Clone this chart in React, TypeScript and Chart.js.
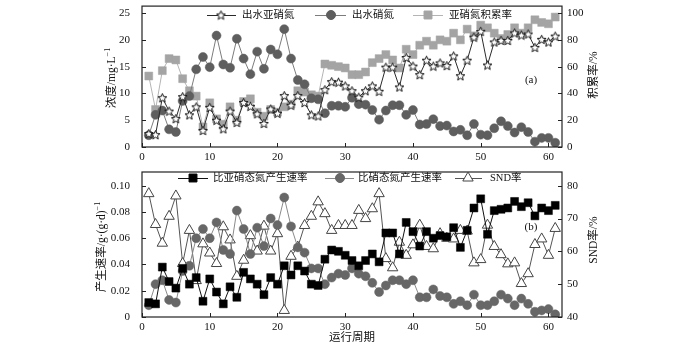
import React, { useEffect, useRef } from 'react';
import { Chart, registerables } from 'chart.js';
Chart.register(...registerables);

// ---------- data ----------
const periods = [1,2,3,4,5,6,7,8,9,10,11,12,13,14,15,16,17,18,19,20,21,22,23,24,25,26,27,28,29,30,31,32,33,34,35,36,37,38,39,40,41,42,43,44,45,46,47,48,49,50,51,52,53,54,55,56,57,58,59,60,61];

// (a) 出水亚硝氮 mg/L
const effluentNitrite = [2.5,2.3,9.2,6.7,5.3,9.4,6.0,7.5,3.1,7.4,5.0,3.4,6.7,4.6,8.3,7.6,6.2,4.4,7.1,6.3,9.6,7.8,9.6,8.3,6.0,5.8,10.7,12.2,12.1,11.4,10.5,9.3,10.5,11.4,10.4,14.9,14.9,11.2,16.7,15.1,13.5,16.2,15.1,15.7,15.2,17.0,13.3,16.2,20.5,21.6,15.3,19.6,19.9,19.9,21.3,20.9,21.1,18.6,20.1,19.6,20.7];
// (a) 出水硝氮 mg/L
const effluentNitrate = [2.2,6.0,6.8,3.3,2.8,8.6,9.5,14.5,16.8,14.9,20.8,15.4,14.8,20.2,16.5,13.6,17.8,14.6,18.2,17.3,22.0,16.5,12.5,11.7,9.1,8.9,6.3,7.7,7.7,7.5,9.2,8.0,7.9,6.9,5.1,6.8,7.8,7.8,6.0,6.9,4.2,4.3,5.2,3.9,4.0,2.9,3.2,2.2,4.3,2.3,2.2,3.5,4.8,3.9,2.7,3.7,2.8,1.0,1.7,1.7,0.8];
// (a) 亚硝氮积累率 %
const nitriteAccumRate = [53,28,57,66,65,51,42,38,15,33,21,17,30,20,34,36,26,23,28,26,30,32,42,41,39,38,62,61,60,59,54,54,56,63,66,69,65,59,73,69,76,79,76,80,79,85,80,88,83,91,89,85,81,84,89,85,89,95,93,92,97];

// (b) 比亚硝态氮产生速率 g/(g·d)
const nitriteProdRate = [0.011,0.010,0.038,0.027,0.022,0.037,0.025,0.030,0.012,0.029,0.019,0.010,0.023,0.015,0.034,0.029,0.025,0.017,0.030,0.025,0.039,0.032,0.039,0.035,0.025,0.024,0.044,0.051,0.050,0.047,0.043,0.039,0.043,0.048,0.042,0.064,0.064,0.048,0.072,0.065,0.054,0.065,0.060,0.062,0.061,0.068,0.053,0.066,0.083,0.090,0.063,0.081,0.082,0.083,0.088,0.084,0.087,0.077,0.083,0.081,0.085];
// (b) 比硝态氮产生速率 g/(g·d)
const nitrateProdRate = [0.009,0.025,0.028,0.013,0.011,0.035,0.039,0.060,0.067,0.060,0.072,0.051,0.048,0.081,0.067,0.048,0.068,0.054,0.075,0.070,0.091,0.069,0.053,0.049,0.037,0.037,0.025,0.030,0.033,0.032,0.037,0.033,0.031,0.026,0.019,0.024,0.028,0.028,0.025,0.028,0.015,0.015,0.021,0.016,0.015,0.010,0.012,0.009,0.017,0.009,0.009,0.012,0.017,0.014,0.009,0.014,0.010,0.004,0.005,0.006,0.002];
// (b) SND率 %
const sndRate = [77.6,68.2,62.5,70.7,76.9,56.3,66.4,51.1,62.3,59.5,56.3,67.5,63.5,52.4,57.3,64.8,60.1,67.7,60.1,65.4,42.0,58.5,61.3,67.9,70.7,75.1,71.5,66.4,67.9,67.9,67.9,72.5,70.0,73.0,77.6,57.8,55.0,62.8,58.8,62.0,68.0,61.5,60.8,65.4,64.0,63.8,66.4,66.2,56.5,57.5,68.0,61.5,59.0,56.2,56.5,50.2,53.2,62.1,63.8,58.8,67.0];

const legendA = ['出水亚硝氮', '出水硝氮', '亚硝氮积累率'];
const legendB = ['比亚硝态氮产生速率', '比硝态氮产生速率', 'SND率'];
const xTitle = '运行周期';

const SERIF = '"Liberation Serif", "Noto Sans CJK SC", serif';

function pts(arr: number[]) {
  return periods.map((p, i) => ({ x: p, y: arr[i] }));
}

function makeStar(size: number) {
  const c = document.createElement('canvas');
  c.width = size; c.height = size;
  const ctx = c.getContext('2d')!;
  const cx = size / 2, cy = size / 2 + 0.5, R = size / 2 - 0.8, r = R * 0.45;
  ctx.beginPath();
  for (let k = 0; k < 10; k++) {
    const ang = -Math.PI / 2 + (k * Math.PI) / 5;
    const rad = k % 2 === 0 ? R : r;
    ctx.lineTo(cx + rad * Math.cos(ang), cy + rad * Math.sin(ang));
  }
  ctx.closePath();
  ctx.fillStyle = '#fff'; ctx.fill();
  ctx.lineWidth = 1; ctx.strokeStyle = '#111'; ctx.stroke();
  return c;
}

function drawMarker(ctx: CanvasRenderingContext2D, m: any, x: number, y: number) {
  ctx.save();
  ctx.fillStyle = m.fill; ctx.strokeStyle = m.stroke; ctx.lineWidth = 1;
  if (m.kind === 'circle') {
    ctx.beginPath(); ctx.arc(x, y, m.r, 0, Math.PI * 2); ctx.fill(); ctx.stroke();
  } else if (m.kind === 'rect') {
    const s = m.r * Math.SQRT1_2;
    ctx.beginPath(); ctx.rect(x - s, y - s, 2 * s, 2 * s); ctx.fill(); ctx.stroke();
  } else if (m.kind === 'triangle') {
    ctx.beginPath();
    for (let k = 0; k < 3; k++) {
      const ang = -Math.PI / 2 + (k * 2 * Math.PI) / 3;
      ctx.lineTo(x + m.r * Math.cos(ang), y + m.r * Math.sin(ang));
    }
    ctx.closePath(); ctx.fill(); ctx.stroke();
  } else if (m.kind === 'image') {
    ctx.drawImage(m.img, x - m.img.width / 2, y - m.img.height / 2);
  }
  ctx.restore();
}

function drawVTitle(ctx: CanvasRenderingContext2D, cx: number, cy: number, main: string, sup: string, size: number) {
  ctx.save();
  ctx.translate(cx, cy);
  ctx.rotate(-Math.PI / 2);
  ctx.fillStyle = '#111';
  ctx.textBaseline = 'middle';
  ctx.textAlign = 'left';
  ctx.font = `${size}px ${SERIF}`;
  const wm = ctx.measureText(main).width;
  ctx.font = `${size * 0.7}px ${SERIF}`;
  const ws = sup ? ctx.measureText(sup).width : 0;
  const start = -(wm + ws) / 2;
  ctx.font = `${size}px ${SERIF}`;
  ctx.fillText(main, start, 0);
  if (sup) {
    ctx.font = `${size * 0.7}px ${SERIF}`;
    ctx.fillText(sup, start + wm, -4);
  }
  ctx.restore();
}

const decorPlugin = {
  id: 'decor',
  afterDraw(chart: any, _args: any, opts: any) {
    const ctx: CanvasRenderingContext2D = chart.ctx;
    const a = chart.chartArea;
    ctx.save();
    ctx.strokeStyle = '#222';
    ctx.lineWidth = 1;
    const L = 4;
    for (const id of ['x', 'y', 'y1']) {
      const s = chart.scales[id];
      if (!s) continue;
      s.ticks.forEach((t: any) => {
        const p = Math.round(s.getPixelForValue(t.value)) + 0.5;
        ctx.beginPath();
        if (id === 'x') { ctx.moveTo(p, a.bottom); ctx.lineTo(p, a.bottom - L); }
        else if (id === 'y') { ctx.moveTo(a.left, p); ctx.lineTo(a.left + L, p); }
        else { ctx.moveTo(a.right, p); ctx.lineTo(a.right - L, p); }
        ctx.stroke();
      });
    }
    ctx.lineWidth = 1.2;
    ctx.strokeStyle = '#222';
    ctx.strokeRect(a.left, a.top, a.right - a.left, a.bottom - a.top);

    // legend
    (opts.legend || []).forEach((it: any) => {
      ctx.save();
      ctx.strokeStyle = it.line; ctx.lineWidth = 1;
      ctx.beginPath(); ctx.moveTo(it.x1, it.y + 0.5); ctx.lineTo(it.x2, it.y + 0.5); ctx.stroke();
      drawMarker(ctx, it.marker, it.mx, it.y);
      ctx.fillStyle = '#111';
      ctx.font = `10.5px ${SERIF}`;
      ctx.textBaseline = 'middle';
      ctx.textAlign = 'left';
      ctx.fillText(it.text, it.tx, it.y);
      ctx.restore();
    });

    // panel label
    if (opts.panel) {
      ctx.fillStyle = '#111';
      ctx.font = `11px ${SERIF}`;
      ctx.textAlign = 'center'; ctx.textBaseline = 'middle';
      ctx.fillText(opts.panel.text, opts.panel.x, opts.panel.y);
    }
    (opts.titles || []).forEach((t: any) => drawVTitle(ctx, t.x, t.y, t.main, t.sup, t.size));
    if (opts.xTitle) {
      ctx.fillStyle = '#111';
      ctx.font = `11.5px ${SERIF}`;
      ctx.textAlign = 'center'; ctx.textBaseline = 'middle';
      ctx.fillText(opts.xTitle.text, opts.xTitle.x, opts.xTitle.y);
    }
    ctx.restore();
  },
};

const tickFont = { family: SERIF, size: 11 };

function fixW(w: number) {
  return (s: any) => { s.width = w; s.paddingTop = 0; s.paddingBottom = 0; s.paddingLeft = 0; s.paddingRight = 0; };
}
function fixH(h: number) {
  return (s: any) => { s.height = h; s.paddingTop = 0; s.paddingBottom = 0; s.paddingLeft = 0; s.paddingRight = 0; };
}

function baseScales(xH: number, yMax: number, yStep: number, y1Min: number, y1Max: number, y1Step: number, yFmt?: (v: number) => string) {
  const common = { grid: { display: false, drawTicks: false }, border: { display: false } };
  return {
    x: {
      ...common, type: 'linear', min: 0, max: 62, afterFit: fixH(xH),
      ticks: { stepSize: 10, includeBounds: false, padding: 4, color: '#111', font: tickFont, maxRotation: 0, autoSkip: false },
    },
    y: {
      ...common, position: 'left', min: 0, max: yMax, afterFit: fixW(142),
      ticks: { stepSize: yStep, includeBounds: false, padding: 12, color: '#111', font: tickFont,
        callback: (v: number) => (yFmt ? yFmt(v) : String(v)) },
    },
    y1: {
      ...common, position: 'right', min: y1Min, max: y1Max, afterFit: fixW(138),
      ticks: { stepSize: y1Step, includeBounds: false, padding: 5, color: '#111', font: tickFont },
    },
  };
}

export default function App() {
  const topRef = useRef<HTMLCanvasElement>(null);
  const botRef = useRef<HTMLCanvasElement>(null);

  useEffect(() => {
    const star = makeStar(11);
    const topChart = new Chart(topRef.current!, {
      type: 'line',
      data: {
        datasets: [
          { label: legendA[0], data: pts(effluentNitrite), yAxisID: 'y', borderColor: '#2a2a2a', borderWidth: 1,
            pointStyle: star as any, pointRadius: 5, tension: 0 },
          { label: legendA[1], data: pts(effluentNitrate), yAxisID: 'y', borderColor: '#7c7c7c', borderWidth: 1,
            pointStyle: 'circle', pointRadius: 4.5, pointBackgroundColor: '#5e5e5e', pointBorderColor: '#5e5e5e', pointBorderWidth: 0.5, tension: 0 },
          { label: legendA[2], data: pts(nitriteAccumRate), yAxisID: 'y1', borderColor: '#b4b4b4', borderWidth: 1,
            pointStyle: 'rect', pointRadius: 5.6, pointBackgroundColor: '#a4a4a4', pointBorderColor: '#a4a4a4', pointBorderWidth: 0.5, tension: 0 },
        ],
      },
      options: {
        animation: false, responsive: false, maintainAspectRatio: false,
        layout: { padding: { top: 5, left: 0, right: 0, bottom: 0 } },
        plugins: {
          legend: { display: false }, tooltip: { enabled: false },
          decor: {
            legend: [
              { x1: 207, x2: 236, mx: 221, tx: 242, y: 15, text: legendA[0], line: '#2a2a2a', marker: { kind: 'image', img: star } },
              { x1: 315, x2: 346, mx: 331, tx: 352, y: 15, text: legendA[1], line: '#7c7c7c', marker: { kind: 'circle', r: 4.5, fill: '#5e5e5e', stroke: '#5e5e5e' } },
              { x1: 413, x2: 443, mx: 428, tx: 449, y: 15, text: legendA[2], line: '#b4b4b4', marker: { kind: 'rect', r: 5.6, fill: '#a4a4a4', stroke: '#a4a4a4' } },
            ],
            panel: { text: '(a)', x: 531, y: 80 },
            titles: [
              { x: 112, y: 78, main: '浓度/mg·L', sup: '−1', size: 11.5 },
              { x: 594, y: 75, main: '积累率/%', sup: '', size: 11.5 },
            ],
          },
        } as any,
        scales: baseScales(18, 26.3, 5, 0, 105.2, 20) as any,
      },
      plugins: [decorPlugin],
    });

    const botChart = new Chart(botRef.current!, {
      type: 'line',
      data: {
        datasets: [
          { label: legendB[0], data: pts(nitriteProdRate), yAxisID: 'y', borderColor: '#111', borderWidth: 1,
            pointStyle: 'rect', pointRadius: 5.6, pointBackgroundColor: '#000', pointBorderColor: '#000', pointBorderWidth: 0.5, tension: 0 },
          { label: legendB[1], data: pts(nitrateProdRate), yAxisID: 'y', borderColor: '#8a8a8a', borderWidth: 1,
            pointStyle: 'circle', pointRadius: 4.5, pointBackgroundColor: '#676767', pointBorderColor: '#676767', pointBorderWidth: 0.5, tension: 0 },
          { label: legendB[2], data: pts(sndRate), yAxisID: 'y1', borderColor: '#555', borderWidth: 1,
            pointStyle: 'triangle', pointRadius: 6, pointBackgroundColor: '#fff', pointBorderColor: '#444', pointBorderWidth: 1, tension: 0 },
        ],
      },
      options: {
        animation: false, responsive: false, maintainAspectRatio: false,
        layout: { padding: { top: 3, left: 0, right: 0, bottom: 0 } },
        plugins: {
          legend: { display: false }, tooltip: { enabled: false },
          decor: {
            legend: [
              { x1: 178, x2: 208, mx: 193, tx: 213, y: 13, text: legendB[0], line: '#111', marker: { kind: 'rect', r: 5.6, fill: '#000', stroke: '#000' } },
              { x1: 325, x2: 354, mx: 340, tx: 358, y: 13, text: legendB[1], line: '#8a8a8a', marker: { kind: 'circle', r: 4.5, fill: '#676767', stroke: '#676767' } },
              { x1: 455, x2: 482, mx: 468, tx: 490, y: 13, text: legendB[2], line: '#555', marker: { kind: 'triangle', r: 6, fill: '#fff', stroke: '#444' } },
            ],
            panel: { text: '(b)', x: 531, y: 62 },
            titles: [
              { x: 102, y: 82, main: '产生速率/g·(g·d)', sup: '−1', size: 11.5 },
              { x: 594, y: 75, main: 'SND率/%', sup: '', size: 11.5 },
            ],
            xTitle: { text: xTitle, x: 352, y: 173 },
          },
        } as any,
        scales: baseScales(28, 0.1104, 0.02, 40, 84.2, 10, (v: number) => (v === 0 ? '0' : v.toFixed(2))) as any,
      },
      plugins: [decorPlugin],
    });

    return () => { topChart.destroy(); botChart.destroy(); };
  }, []);

  return (
    <div style={{ position: 'absolute', left: 0, top: 0, width: 700, height: 345, background: '#fff' }}>
      <canvas ref={topRef} width={700} height={165} style={{ position: 'absolute', left: 0, top: 0, width: 700, height: 165 }} />
      <canvas ref={botRef} width={700} height={180} style={{ position: 'absolute', left: 0, top: 165, width: 700, height: 180 }} />
    </div>
  );
}
